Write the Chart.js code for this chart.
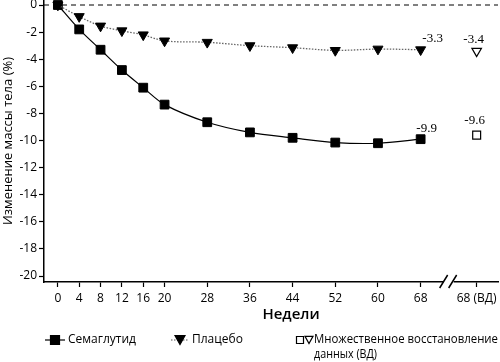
<!DOCTYPE html>
<html>
<head>
    <meta charset="utf-8">
    <title>Изменение массы тела</title>
    <script src="https://cdn.jsdelivr.net/npm/chart.js"></script>
    <style>
        html, body {
            margin: 0;
            padding: 0;
            background: #fff;
        }
        .chart-container {
            width: 500px;
            height: 362px;
        }
    </style>
</head>
<body>
    <div class="chart-container">
        <canvas id="weightChart"></canvas>
    </div>
    <script>
        // данные
        const weeks = [0, 4, 8, 12, 16, 20, 28, 36, 44, 52, 60, 68];
        const semaglutide = [0, -1.8, -3.3, -4.8, -6.1, -7.35, -8.65, -9.4, -9.8, -10.15, -10.2, -9.9];
        const placebo = [0, -0.85, -1.55, -1.9, -2.2, -2.65, -2.75, -3.0, -3.15, -3.35, -3.25, -3.3];

        // точка "68 (ВД)" стоит за разрывом оси
        const vdWeek = 78.5;
        const vdSemaglutide = -9.6;
        const vdPlacebo = -3.4;

        const xTicks = [0, 4, 8, 12, 16, 20, 28, 36, 44, 52, 60, 68, vdWeek];
        const yTicks = [0, -2, -4, -6, -8, -10, -12, -14, -16, -18, -20];

        const sans = "'Open Sans', 'Noto Sans', sans-serif";
        const serif = "'Liberation Serif', 'DejaVu Serif', serif";

        const toPoints = (xs, ys) => xs.map((x, i) => ({ x: x, y: ys[i] }));

        function square(ctx, x, y, s, fill) {
            ctx.beginPath();
            ctx.rect(x - s / 2, y - s / 2, s, s);
            ctx.fillStyle = fill;
            ctx.fill();
            ctx.strokeStyle = '#000';
            ctx.lineWidth = 1.2;
            ctx.stroke();
        }

        function triDown(ctx, x, y, w, fill) {
            const h = w * 0.9;
            ctx.beginPath();
            ctx.moveTo(x - w / 2, y - h / 2);
            ctx.lineTo(x + w / 2, y - h / 2);
            ctx.lineTo(x, y + h / 2);
            ctx.closePath();
            ctx.fillStyle = fill;
            ctx.fill();
            ctx.strokeStyle = '#000';
            ctx.lineWidth = 1.2;
            ctx.stroke();
        }

        const extras = {
            id: 'extras',
            beforeDatasetsDraw(chart) {
                // пунктир по нулю
                const { ctx, chartArea, scales } = chart;
                const y0 = scales.y.getPixelForValue(0);
                ctx.save();
                ctx.strokeStyle = '#000';
                ctx.lineWidth = 1;
                ctx.setLineDash([5, 4]);
                ctx.beginPath();
                ctx.moveTo(chartArea.left, y0);
                ctx.lineTo(chartArea.right, y0);
                ctx.stroke();
                ctx.restore();
            },
            afterDraw(chart) {
                const { ctx, chartArea, scales } = chart;
                const x = scales.x, y = scales.y;
                ctx.save();

                // разрыв оси
                const xb = x.getPixelForValue((68 + vdWeek) / 2);
                const yb = chartArea.bottom;
                ctx.fillStyle = '#fff';
                ctx.fillRect(xb - 5, yb - 2, 10, 4);
                ctx.strokeStyle = '#000';
                ctx.lineWidth = 1.5;
                ctx.beginPath();
                ctx.moveTo(xb - 9, yb + 6);
                ctx.lineTo(xb - 1, yb - 7);
                ctx.moveTo(xb, yb + 6);
                ctx.lineTo(xb + 8, yb - 7);
                ctx.stroke();

                // подписи значений
                ctx.fillStyle = '#000';
                ctx.font = '13px ' + serif;
                ctx.textAlign = 'center';
                ctx.textBaseline = 'middle';
                const last = weeks.length - 1;
                const lab = (wx, vy, dx, dy) => {
                    ctx.fillText(vy.toFixed(1), x.getPixelForValue(wx) + dx, y.getPixelForValue(vy) + dy);
                };
                lab(weeks[last], placebo[last], 12, -11);
                lab(weeks[last], semaglutide[last], 6, -11);
                lab(vdWeek, vdPlacebo, -3, -12);
                lab(vdWeek, vdSemaglutide, -2, -15);

                // подпись оси X
                ctx.font = '600 15px ' + sans;
                ctx.fillText('Недели', 291, 315);

                // легенда
                const ly = 340;
                ctx.lineWidth = 1.2;
                ctx.strokeStyle = '#000';
                ctx.beginPath();
                ctx.moveTo(45, ly);
                ctx.lineTo(65, ly);
                ctx.stroke();
                square(ctx, 55, ly, 9, '#000');

                ctx.strokeStyle = '#555';
                ctx.setLineDash([1.5, 1.5]);
                ctx.beginPath();
                ctx.moveTo(171, ly);
                ctx.lineTo(188, ly);
                ctx.stroke();
                ctx.setLineDash([]);
                triDown(ctx, 180, ly, 10, '#000');

                square(ctx, 300, ly, 7, '#fff');
                triDown(ctx, 309, ly, 8, '#fff');

                ctx.fillStyle = '#000';
                ctx.font = '12px ' + sans;
                ctx.textAlign = 'left';
                ctx.fillText('Семаглутид', 68, ly);
                ctx.fillText('Плацебо', 192, ly);
                ctx.fillText('Множественное восстановление', 314, ly, 184);
                ctx.fillText('данных (ВД)', 314, ly + 15, 63);

                ctx.restore();
            }
        };

        const ctx = document.getElementById('weightChart').getContext('2d');
        new Chart(ctx, {
            type: 'line',
            data: {
                datasets: [
                    {
                        label: 'Плацебо',
                        data: toPoints(weeks, placebo),
                        borderColor: '#666',
                        borderWidth: 1.3,
                        borderDash: [1.5, 1.5],
                        tension: 0.3,
                        pointStyle: 'triangle',
                        rotation: 180,
                        pointRadius: 5.8,
                        pointBackgroundColor: '#000',
                        pointBorderColor: '#000',
                        pointBorderWidth: 1
                    },
                    {
                        label: 'Семаглутид',
                        data: toPoints(weeks, semaglutide),
                        borderColor: '#000',
                        borderWidth: 1.2,
                        tension: 0.3,
                        pointStyle: 'rect',
                        pointRadius: 6.2,
                        pointBackgroundColor: '#000',
                        pointBorderColor: '#000',
                        pointBorderWidth: 1
                    },
                    {
                        label: 'Плацебо (ВД)',
                        data: [{ x: vdWeek, y: vdPlacebo }],
                        showLine: false,
                        pointStyle: 'triangle',
                        rotation: 180,
                        pointRadius: 5.5,
                        pointBackgroundColor: '#fff',
                        pointBorderColor: '#000',
                        pointBorderWidth: 1.2
                    },
                    {
                        label: 'Семаглутид (ВД)',
                        data: [{ x: vdWeek, y: vdSemaglutide }],
                        showLine: false,
                        pointStyle: 'rect',
                        pointRadius: 5.6,
                        pointBackgroundColor: '#fff',
                        pointBorderColor: '#000',
                        pointBorderWidth: 1.2
                    }
                ]
            },
            options: {
                responsive: true,
                maintainAspectRatio: false,
                animation: false,
                clip: false,
                layout: {
                    autoPadding: false,
                    padding: { top: 0, right: 2, left: 0, bottom: 0 }
                },
                plugins: {
                    legend: { display: false },
                    tooltip: { enabled: false }
                },
                scales: {
                    x: {
                        type: 'linear',
                        min: -2.6,
                        max: 82.5,
                        afterFit: (s) => {
                            s.height = 80;
                            s.paddingLeft = 0;
                            s.paddingRight = 0;
                        },
                        afterBuildTicks: (s) => { s.ticks = xTicks.map(v => ({ value: v })); },
                        grid: {
                            drawOnChartArea: false,
                            tickLength: 5,
                            tickWidth: 1.2,
                            tickColor: '#000'
                        },
                        border: { color: '#000', width: 1.5 },
                        ticks: {
                            autoSkip: false,
                            maxRotation: 0,
                            padding: 4,
                            color: '#000',
                            font: { family: sans, size: 12 },
                            callback: (v) => (v === vdWeek ? '68 (ВД)' : String(v))
                        }
                    },
                    y: {
                        min: -20.44,
                        max: 0.37,
                        afterFit: (s) => {
                            s.width = 44;
                            s.paddingTop = 0;
                            s.paddingBottom = 0;
                        },
                        afterBuildTicks: (s) => { s.ticks = yTicks.map(v => ({ value: v })); },
                        grid: {
                            drawOnChartArea: false,
                            tickLength: 5,
                            tickWidth: 1.2,
                            tickColor: '#000'
                        },
                        border: { color: '#000', width: 1.5 },
                        ticks: {
                            padding: 2,
                            color: '#000',
                            font: { family: sans, size: 12 }
                        },
                        title: {
                            display: true,
                            text: 'Изменение массы тела (%)',
                            color: '#000',
                            font: { family: sans, size: 13 },
                            padding: { top: 0, bottom: 0 }
                        }
                    }
                }
            },
            plugins: [extras]
        });
    </script>
</body>
</html>
